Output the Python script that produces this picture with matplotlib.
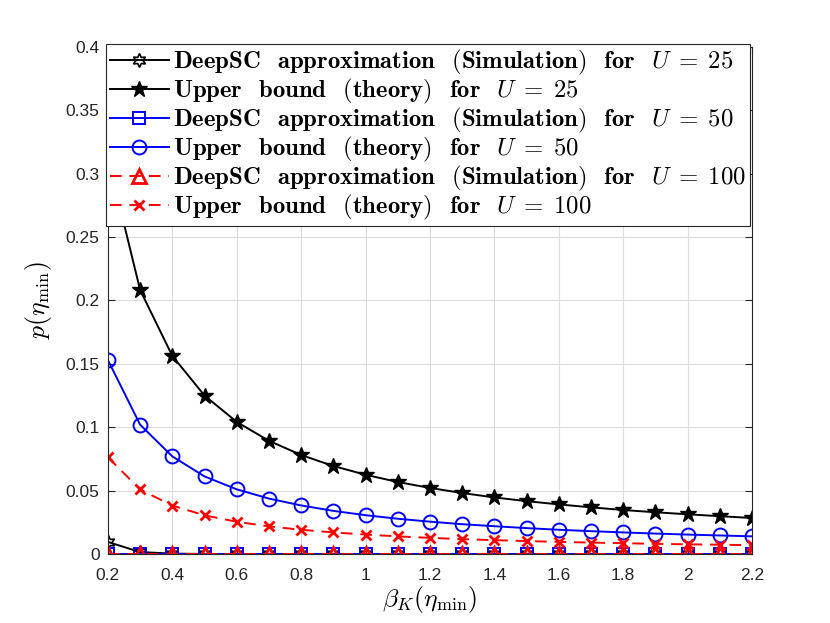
import matplotlib
matplotlib.use("Agg")
import matplotlib.pyplot as plt

plt.rcParams['mathtext.fontset'] = 'cm'
plt.rcParams['font.family'] = ['Liberation Sans', 'DejaVu Sans']

# data
beta = [0.2, 0.3, 0.4, 0.5, 0.6, 0.7, 0.8, 0.9, 1.0, 1.1, 1.2,
        1.3, 1.4, 1.5, 1.6, 1.7, 1.8, 1.9, 2.0, 2.1, 2.2]

sim_25 = [0.0095, 0.0015, 0.0003, 0, 0, 0, 0, 0, 0, 0, 0,
          0, 0, 0, 0, 0, 0, 0, 0, 0, 0]
bound_25 = [0.3125, 0.2083, 0.1563, 0.125, 0.1042, 0.0893, 0.0781, 0.0694,
            0.0625, 0.0568, 0.0521, 0.0481, 0.0446, 0.0417, 0.0391, 0.0368,
            0.0347, 0.0329, 0.0313, 0.0298, 0.0284]
sim_50 = [0] * 21
bound_50 = [0.153, 0.102, 0.077, 0.0612, 0.051, 0.0437, 0.0383, 0.034,
            0.0306, 0.0278, 0.0255, 0.0235, 0.0219, 0.0204, 0.0191, 0.018,
            0.017, 0.0161, 0.0153, 0.0146, 0.0139]
sim_100 = [0] * 21
bound_100 = [0.0763, 0.0509, 0.0382, 0.0305, 0.0254, 0.0218, 0.0191, 0.017,
             0.0153, 0.0139, 0.0127, 0.0117, 0.0109, 0.0102, 0.0095, 0.009,
             0.0085, 0.008, 0.0076, 0.0073, 0.0069]

# word gap in the bold mathtext labels
g = r'\ \;\,'
sim_txt = r'\mathbf{DeepSC' + g + 'approximation' + g + '(Simulation)' + g + 'for}' + g
ub_txt = r'\mathbf{Upper' + g + 'bound' + g + '(theory)' + g + 'for}' + g
labels = [
    '$' + sim_txt + r'U\;=\;25$',
    '$' + ub_txt + r'U\;=\;25$',
    '$' + sim_txt + r'U\;=\;50$',
    '$' + ub_txt + r'U\;=\;50$',
    '$' + sim_txt + r'U\;=\;100$',
    '$' + ub_txt + r'U\;=\;100$',
]

fig = plt.figure(figsize=(8.3, 6.23), dpi=100)
ax = fig.add_axes([0.130, 0.1108, 0.776, 0.8138])

lw = 1.4
ax.plot(beta, sim_25, '-', color='k', lw=lw, marker=(6, 1, 0), ms=10,
        mfc='none', mec='k', mew=1.2, label=labels[0])
ax.plot(beta, bound_25, '-', color='k', lw=lw, marker='*', ms=12,
        mfc='k', mec='k', label=labels[1])
ax.plot(beta, sim_50, '-', color='b', lw=lw, marker='s', ms=8,
        mfc='none', mec='b', mew=1.4, label=labels[2])
ax.plot(beta, bound_50, '-', color='b', lw=lw, marker='o', ms=10,
        mfc='none', mec='b', mew=1.4, label=labels[3])
ax.plot(beta, sim_100, '--', color='r', lw=lw, marker='^', ms=10,
        mfc='none', mec='r', mew=2, label=labels[4], dashes=(6, 4))
ax.plot(beta, bound_100, '--', color='r', lw=lw, marker='x', ms=7,
        mec='r', mew=2, label=labels[5], dashes=(6, 4))

ax.set_xlim(0.2, 2.2)
ax.set_ylim(0, 0.4)
ax.set_xticks([0.2, 0.4, 0.6, 0.8, 1, 1.2, 1.4, 1.6, 1.8, 2, 2.2])
ax.set_xticklabels(['0.2', '0.4', '0.6', '0.8', '1', '1.2', '1.4', '1.6', '1.8', '2', '2.2'])
ax.set_yticks([0, 0.05, 0.1, 0.15, 0.2, 0.25, 0.3, 0.35, 0.4])
ax.set_yticklabels(['0', '0.05', '0.1', '0.15', '0.2', '0.25', '0.3', '0.35', '0.4'])
ax.grid(True, color='#dcdcdc', lw=0.8)
ax.set_axisbelow(True)
ax.tick_params(direction='in', labelsize=12.5, colors='#262626', length=5,
               top=True, right=True)
ax.tick_params(axis='x', pad=10)
ax.tick_params(axis='y', pad=6)
for s in ax.spines.values():
    s.set_color('#262626')
    s.set_linewidth(0.8)

ax.set_xlabel(r'$\beta_K(\eta_{\min})$', fontsize=18.5, labelpad=1)
ax.set_ylabel(r'$p(\eta_{\min})$', fontsize=18.5, labelpad=8)

leg = ax.legend(loc='upper left', bbox_to_anchor=(106 / 830, 1 - 44 / 623),
                bbox_transform=fig.transFigure, borderaxespad=0,
                fontsize=17.8, handlelength=2.4, handletextpad=0.15,
                labelspacing=0.0, borderpad=0.15, fancybox=False,
                framealpha=1, edgecolor='#262626')
leg.get_frame().set_linewidth(0.8)

fig.savefig('out.png', dpi=100)
